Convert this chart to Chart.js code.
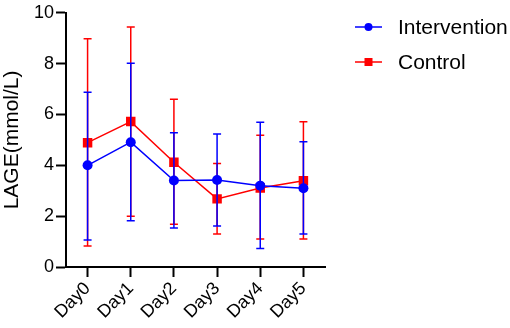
<!DOCTYPE html>
<html>
<head>
<meta charset="utf-8">
<script src="https://cdn.jsdelivr.net/npm/chart.js@4"></script>
<style>
  body { margin: 0; background: #fff; }
  #wrap { width: 510px; height: 328px; }
</style>
</head>
<body>
<div id="wrap"><canvas id="myChart"></canvas></div>
<script>
// data
const days = ['Day0', 'Day1', 'Day2', 'Day3', 'Day4', 'Day5'];
const yTicks = [0, 2, 4, 6, 8, 10];

const interventionMean = [4.00, 4.91, 3.40, 3.42, 3.20, 3.10];
const interventionUpper = [6.87, 8.02, 5.28, 5.23, 5.69, 4.93];
const interventionLower = [1.06, 1.82, 1.53, 1.61, 0.73, 1.30];

const controlMean = [4.89, 5.72, 4.12, 2.68, 3.11, 3.39];
const controlUpper = [8.98, 9.44, 6.60, 4.07, 5.18, 5.71];
const controlLower = [0.83, 2.00, 1.68, 1.30, 1.10, 1.10];

const fontName = '"Liberation Sans", Arial, sans-serif';

// error bars drawn just before each dataset so the order matches
const errorBars = {
  id: 'errorBars',
  beforeDatasetDraw(chart, args) {
    const ds = chart.data.datasets[args.index];
    const meta = args.meta;
    const yScale = chart.scales.y;
    const ctx = chart.ctx;
    ctx.save();
    ctx.strokeStyle = ds.borderColor;
    ctx.lineWidth = 1.5;
    meta.data.forEach((pt, i) => {
      const top = yScale.getPixelForValue(ds.upper[i]);
      const bot = yScale.getPixelForValue(ds.lower[i]);
      ctx.beginPath();
      ctx.moveTo(pt.x, top);
      ctx.lineTo(pt.x, bot);
      ctx.moveTo(pt.x - 4, top);
      ctx.lineTo(pt.x + 4, top);
      ctx.moveTo(pt.x - 4, bot);
      ctx.lineTo(pt.x + 4, bot);
      ctx.stroke();
    });
    ctx.restore();
  }
};

// legend with line + marker like the original figure
const lineLegend = {
  id: 'lineLegend',
  afterDraw(chart) {
    const ctx = chart.ctx;
    const x0 = chart.chartArea.right + 30;
    const rows = [27, 62];
    ctx.save();
    chart.data.datasets.forEach((ds, i) => {
      const y = rows[i];
      ctx.strokeStyle = ds.borderColor;
      ctx.fillStyle = ds.borderColor;
      ctx.lineWidth = 1.5;
      ctx.beginPath();
      ctx.moveTo(x0, y);
      ctx.lineTo(x0 + 27, y);
      ctx.stroke();
      if (ds.pointStyle === 'rect') {
        ctx.fillRect(x0 + 13.5 - 4, y - 4, 8, 8);
      } else {
        ctx.beginPath();
        ctx.arc(x0 + 13.5, y, 4, 0, Math.PI * 2);
        ctx.fill();
      }
      ctx.fillStyle = '#000';
      ctx.font = '21px ' + fontName;
      ctx.textBaseline = 'middle';
      ctx.textAlign = 'left';
      ctx.fillText(ds.label, x0 + 43, y + 1);
    });
    ctx.restore();
  }
};

const myChart = document.getElementById('myChart');

let lineChart = new Chart(myChart, {
  type: 'line',
  data: {
    labels: days,
    datasets: [
      {
        label: 'Intervention',
        data: interventionMean,
        upper: interventionUpper,
        lower: interventionLower,
        borderColor: '#0000ff',
        backgroundColor: '#0000ff',
        borderWidth: 1.5,
        pointStyle: 'circle',
        pointRadius: 5,
        pointBorderWidth: 0
      },
      {
        label: 'Control',
        data: controlMean,
        upper: controlUpper,
        lower: controlLower,
        borderColor: '#ff0000',
        backgroundColor: '#ff0000',
        borderWidth: 1.5,
        pointStyle: 'rect',
        pointRadius: 6.7,
        pointBorderWidth: 0
      }
    ]
  },
  options: {
    responsive: true,
    maintainAspectRatio: false,
    animation: false,
    events: [],
    layout: { padding: { top: 10, right: 185, left: 0, bottom: 0 } },
    plugins: {
      legend: { display: false },
      tooltip: { enabled: false }
    },
    scales: {
      x: {
        offset: true,
        grid: { display: true, drawOnChartArea: false, drawTicks: true, tickLength: 10, tickColor: '#000', tickWidth: 2 },
        border: { color: '#000', width: 2 },
        ticks: {
          color: '#000',
          font: { family: fontName, size: 18 },
          minRotation: 45,
          maxRotation: 45,
          padding: 1
        },
        afterFit(scale) { scale.height = 61; }
      },
      y: {
        min: 0,
        max: 10,
        afterBuildTicks(scale) { scale.ticks = yTicks.map(v => ({ value: v })); },
        grid: { display: true, drawOnChartArea: false, drawTicks: true, tickLength: 10, tickColor: '#000', tickWidth: 2 },
        border: { color: '#000', width: 2 },
        ticks: {
          color: '#000',
          font: { family: fontName, size: 18 },
          padding: 2
        },
        title: {
          display: true,
          text: 'LAGE(mmol/L)',
          color: '#000',
          font: { family: fontName, size: 21 },
          padding: 0
        },
        afterFit(scale) { scale.width = 66; }
      }
    }
  },
  plugins: [errorBars, lineLegend]
});
</script>
</body>
</html>
